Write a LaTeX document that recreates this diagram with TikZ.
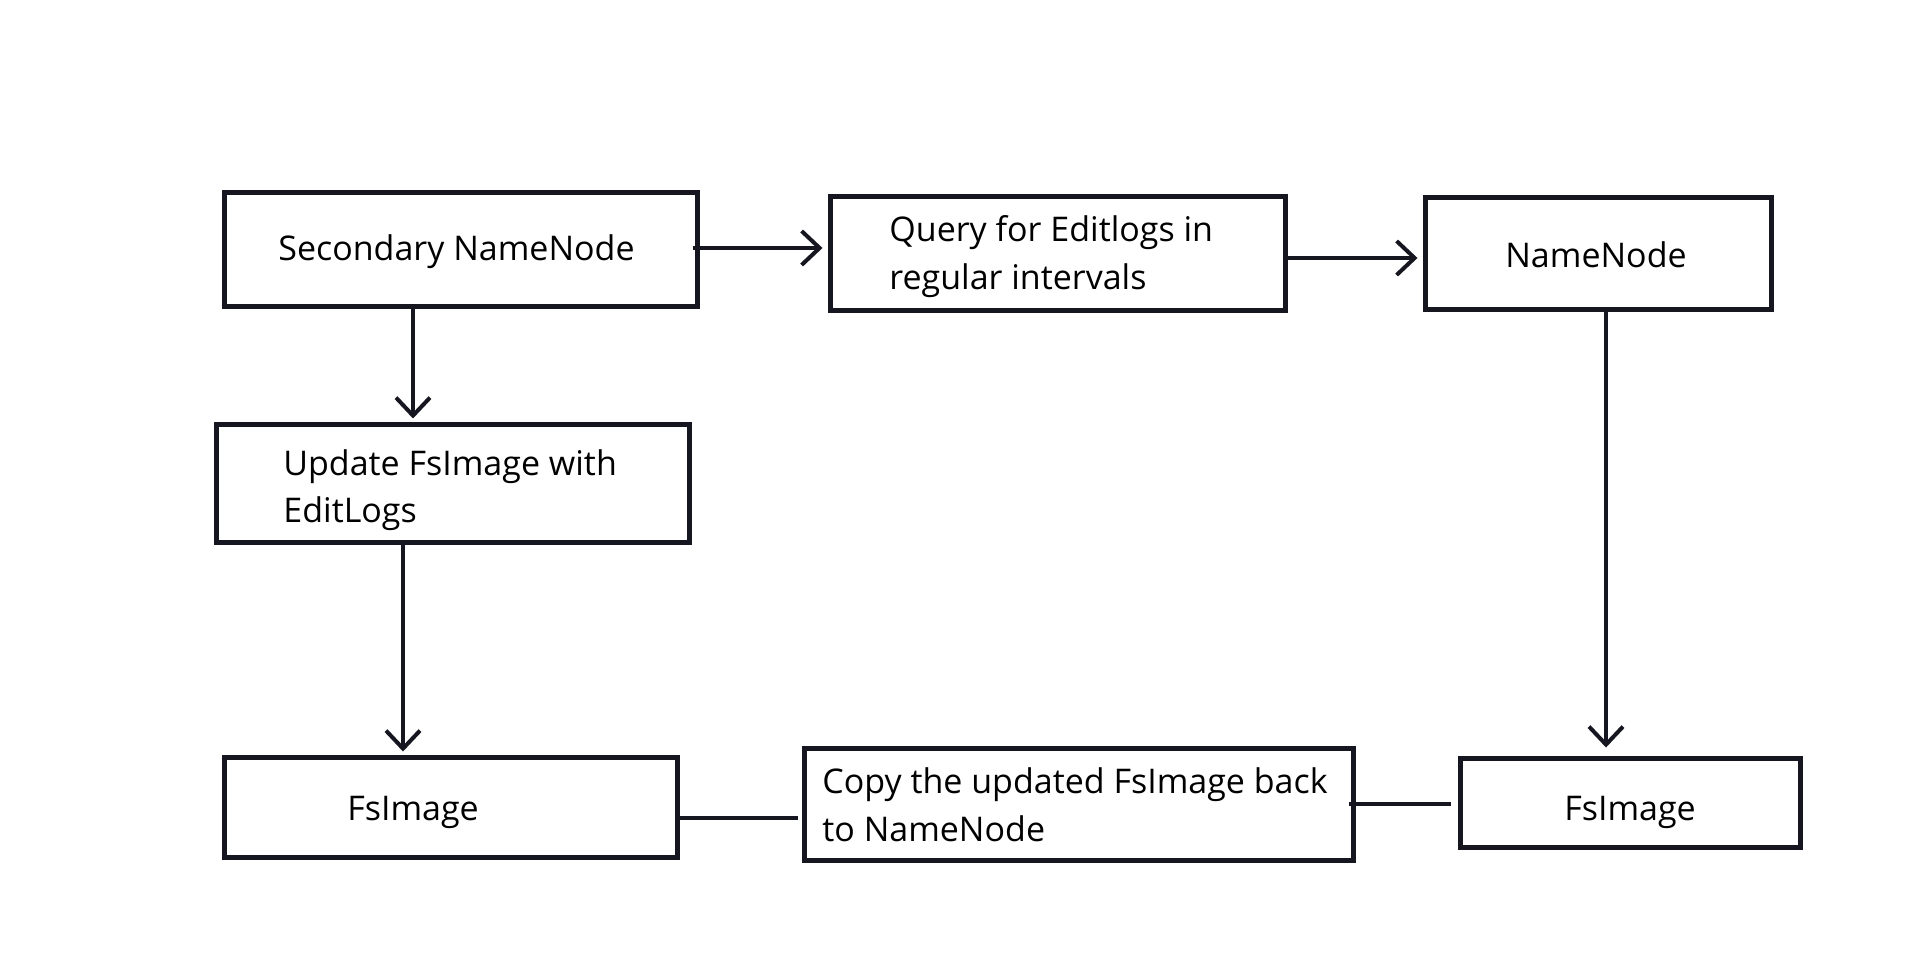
\documentclass[tikz,border=0pt]{standalone}
\usepackage{fontspec}
\setmainfont{Open Sans}
\usetikzlibrary{arrows.meta}
\definecolor{ink}{RGB}{22,22,32}
\newcommand\lines[1]{\begin{tabular}[t]{@{}l@{}}#1\end{tabular}}
\begin{document}
\begin{tikzpicture}[x=0.5pt,y=-0.5pt,
  box/.style={draw=ink, line width=2.5pt, inner sep=0pt},
  lbl/.style={inner sep=0pt, font=\fontsize{17}{24}\selectfont, text=black},
  arr/.style={draw=ink, line width=2pt, -{Straight Barb[length=9pt,width=17pt,line width=2pt]}},
  link/.style={draw=ink, line width=2.3pt}]
\fill[white] (0,0) rectangle (1920,956);
\useasboundingbox (0,0) rectangle (1920,956);

% boxes
\node[box, minimum width=236.5pt, minimum height=57pt] (SN) at (460.5,250) {};
\node[box, minimum width=227.5pt, minimum height=57pt] (Qu) at (1057.5,254) {};
\node[box, minimum width=173pt, minimum height=56pt] (NN) at (1598,254) {};
\node[box, minimum width=236.5pt, minimum height=58.5pt] (Up) at (452.5,483.5) {};
\node[box, minimum width=226.5pt, minimum height=50pt] (FsL) at (450.5,807) {};
\node[box, minimum width=274.5pt, minimum height=56pt] (Co) at (1078.5,804) {};
\node[box, minimum width=170pt, minimum height=44.5pt] (FsR) at (1630,802.5) {};

% labels
\node[lbl, anchor=base west] (tSN) at (278,261) {\lines{Secondary NameNode}};
\node[lbl, anchor=base west] (tQu) at (889,242) {\lines{Query for Editlogs in\\regular intervals}};
\node[lbl, anchor=base] (tNN) at (1596,268) {\lines{NameNode}};
\node[lbl, anchor=base west] (tUp) at (283,475) {\lines{Update FsImage with\\EditLogs}};
\node[lbl, anchor=base] (tFsL) at (413,820) {\lines{FsImage}};
\node[lbl, anchor=base west] (tCo) at (822,793) {\lines{Copy the updated FsImage back\\to NameNode}};
\node[lbl, anchor=base] (tFsR) at (1630,820) {\lines{FsImage}};

% connectors
\draw[arr] ([xshift=-3.5pt,yshift=1pt]SN.east) -- ([xshift=-2.5pt,yshift=1pt]SN.east -| Qu.west);
\draw[arr] ([yshift=-2pt]Qu.east) -- ([xshift=-2.5pt,yshift=-2pt]Qu.east -| NN.west);
\draw[arr] ([xshift=-23.75pt]SN.south) -- ([xshift=-23.75pt,yshift=2pt]SN.south |- Up.north);
\draw[arr] ([xshift=-24.75pt]Up.south) -- ([xshift=-24.75pt,yshift=1.5pt]Up.south |- FsL.north);
\draw[arr] ([xshift=4pt]NN.south) -- ([xshift=4pt,yshift=4pt]NN.south |- FsR.north);
\draw[link] ([xshift=-2.5pt,yshift=-5.5pt]FsL.east) -- ([xshift=-2pt,yshift=-5.5pt]FsL.east -| Co.west);
\draw[link] ([xshift=-3.5pt]Co.east) -- ([xshift=-3.5pt]Co.east -| FsR.west);
\end{tikzpicture}
\end{document}
